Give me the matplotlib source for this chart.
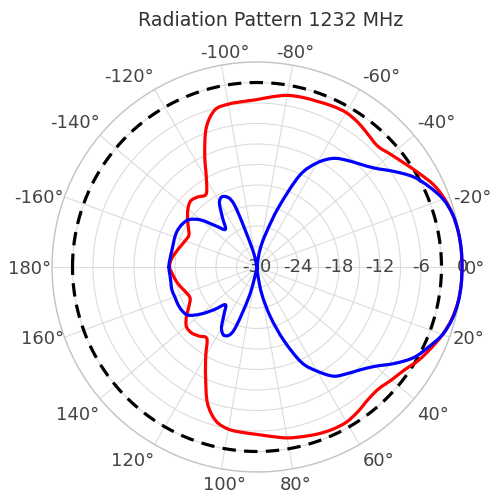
import numpy as np
import matplotlib
matplotlib.use("Agg")
import matplotlib.pyplot as plt
from matplotlib.path import Path
from matplotlib.patches import PathPatch
from matplotlib.transforms import IdentityTransform

# ---------------- data ----------------
angles_deg = list(range(-180, 181, 5))

red_db = [
    -17.2, -17.4, -17.9, -18.4, -18.8, -19.0, -18.4, -17.6, -16.8, -16.3,   # -180 .. -135
    -16.6, -17.0, -15.2, -11.9, -8.3, -6.2, -5.8, -5.7, -5.5, -5.0,         # -130 .. -85
    -4.5, -4.3, -4.2, -4.0, -3.9, -4.2, -4.7, -5.0, -4.4, -3.6,             # -80 .. -35
    -2.6, -1.5, -0.8, -0.35, -0.1, -0.02, 0.0,                               # -30 .. 0
    -0.03, -0.15, -0.5, -1.1, -1.9, -2.7, -3.7, -4.3, -4.8, -4.7,           # 5 .. 50
    -4.2, -3.8, -3.8, -4.0, -4.3, -4.6, -5.1, -5.5, -5.7, -5.9,             # 55 .. 100
    -6.7, -8.8, -12.2, -15.0, -17.2, -16.8, -16.4, -16.5, -17.4, -18.5,     # 105 .. 150
    -19.2, -19.0, -18.5, -18.0, -17.6, -17.2,                                # 155 .. 180
]

blue_db = [
    -17.1, -17.2, -17.3, -17.3, -17.2, -17.2, -17.4, -17.9, -19.3, -21.5,   # -180 .. -135
    -22.8, -21.2, -19.0, -18.6, -20.3, -27.0, -29.8, -30.0, -30.0, -29.5,   # -130 .. -85
    -27.3, -24.8, -20.6, -15.2, -12.4, -10.6, -9.6, -8.7, -7.5, -5.6,       # -80 .. -35
    -3.6, -2.2, -1.0, -0.35, -0.1, 0.0, 0.0,                                 # -30 .. 0
    0.0, -0.12, -0.45, -1.1, -2.3, -3.5, -5.4, -7.4, -8.7, -9.6,            # 5 .. 50
    -10.5, -12.4, -14.6, -18.6, -22.5, -26.0, -29.0, -30.0, -30.0, -29.5,   # 55 .. 100
    -25.5, -20.2, -18.9, -19.6, -21.6, -22.8, -21.2, -19.3, -17.7, -17.3,   # 105 .. 150
    -17.2, -17.2, -17.1, -17.2, -17.2, -17.1,                                # 155 .. 180
]

threshold_angles = list(range(-180, 181, 1))
threshold_db = [-3.0] * len(threshold_angles)

radial_ticks = [-30, -24, -18, -12, -6, 0]
radial_grid = list(range(-30, 1, 3))
angular_ticks = [0, 20, 40, 60, 80, 100, 120, 140, 160, 180,
                 -160, -140, -120, -100, -80, -60, -40, -20]
title = "Radiation Pattern 1232 MHz"

# ---------------- layout ----------------
W, H = 497, 495
cx, cy, R = 257.0, 267.0, 205.0          # polar centre / radius in pixels (top-left origin)
text_color = "#444444"
fs = 13
fs_px = fs * 100 / 72.0
cap = 0.73 * fs_px
lw = 2.3

fig = plt.figure(figsize=(W / 100, H / 100), dpi=100)
fig.patch.set_facecolor("white")
ax = fig.add_axes([(cx - R) / W, (H - cy - R) / H, 2 * R / W, 2 * R / H],
                  projection="polar")
ax.set_theta_zero_location("E")
ax.set_theta_direction(-1)
ax.set_rlim(-30, 0)
ax.set_rticks(radial_grid)
ax.set_yticklabels([])
ax.set_thetagrids(np.arange(0, 360, 20), labels=[""] * 18)
ax.tick_params(axis="both", length=0)
ax.grid(True, color="#dcdcdc", linewidth=0.8)
ax.spines["polar"].set_color("#c4c4c4")
ax.spines["polar"].set_linewidth(1.0)
ax.set_facecolor("white")


def smooth_closed_curve(theta_deg, values, color, z):
    """Draw a closed curve through the data points (mapped by the polar
    axes' own transform) as a smooth Catmull-Rom spline (spline line shape)."""
    th = np.deg2rad(np.asarray(theta_deg[:-1], dtype=float))
    rv = np.asarray(values[:-1], dtype=float)
    pts = ax.transData.transform(np.column_stack([th, rv]))
    n = len(pts)
    verts = [pts[0]]
    codes = [Path.MOVETO]
    for i in range(n):
        p0 = pts[(i - 1) % n]
        p1 = pts[i]
        p2 = pts[(i + 1) % n]
        p3 = pts[(i + 2) % n]
        c1 = p1 + (p2 - p0) / 6.0
        c2 = p2 - (p3 - p1) / 6.0
        verts += [c1, c2, p2]
        codes += [Path.CURVE4] * 3
    patch = PathPatch(Path(verts, codes), facecolor="none", edgecolor=color,
                      linewidth=lw, joinstyle="round", capstyle="round",
                      transform=IdentityTransform(), zorder=z)
    fig.add_artist(patch)


smooth_closed_curve(angles_deg, red_db, "#ff0000", 3)
smooth_closed_curve(angles_deg, blue_db, "#0000ff", 4)
ax.plot(np.deg2rad(threshold_angles), threshold_db, color="black",
        linewidth=lw, linestyle=(0, (4.2, 2.6)), zorder=5)

# radial tick labels along the 0 deg line
for rv in radial_ticks:
    ax.text(0, rv, str(rv), ha="center", va="center", fontsize=fs,
            color=text_color, zorder=2.5, clip_on=False)

# angular tick labels outside the circle
for t in angular_ticks:
    a = np.deg2rad(t)
    c, s = np.cos(a), np.sin(a)
    px = cx + R * c
    py = cy + R * s
    if c > 0.2:
        ha, x = "left", px + 3
    elif c < -0.2:
        ha, x = "right", px - 0.5
    else:
        ha, x = "center", px + 3
    if abs(s) < 0.5:
        yb = py + cap / 2                 # vertically centred on the tick point
    elif s < 0:
        yb = py - 7.5                     # above the circle
    else:
        yb = py + 8 + cap                 # below the circle
    fig.text(x / W, 1 - yb / H, f"{t}°", ha=ha, va="baseline", fontsize=fs,
             color=text_color)

fig.text(271 / W, 1 - 20 / H, title, ha="center", va="center", fontsize=13.7,
         color="#333333")

fig.savefig("out.png", dpi=100, facecolor="white")
